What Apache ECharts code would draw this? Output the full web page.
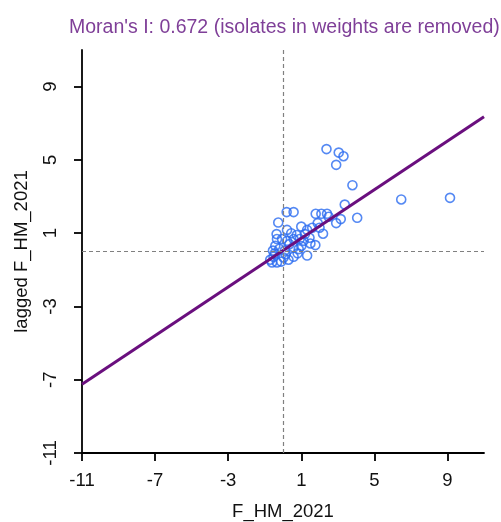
<!DOCTYPE html>
<html>
<head>
<meta charset="utf-8">
<script src="https://cdn.jsdelivr.net/npm/echarts@6/dist/echarts.min.js"></script>
<style>
  html, body { margin: 0; padding: 0; background: #fff; }
  #main { width: 501px; height: 522px; }
</style>
</head>
<body>
<div id="main"></div>
<script>
// 数据：标准化值 与 空间滞后值
var xVals = [2.38, 3.05, 3.31, 2.91, 3.80, 6.47, 9.14, 3.38, 4.06, 0.20,
  0.58, 1.79, 2.10, 2.41, 3.16, 2.91, 1.90, -0.26, 2.19, 1.00,
  0.22, 1.32, -0.33, -0.05, 0.58, 0.91, 1.13, 1.50, 1.77, 0.22,
  -0.42, 0.58, 0.86, 1.32, 0.58, 0.03, -0.52, -0.60, -0.33, -0.70,
  -0.45, 0.10, 0.35, -0.20, 0.75, 1.20, 0.45, -0.10, 0.30, 1.00,
  -0.55, 0.15, 1.60, 2.00, 0.80, -0.35, 1.45, 2.50]
var yVals = [5.59, 5.40, 5.20, 4.73, 3.62, 2.84, 2.93, 2.56, 1.84, 2.15,
  2.15, 2.06, 2.06, 2.06, 1.77, 1.55, 1.55, 1.58, 0.97, 1.36,
  1.18, 1.18, 0.68, 0.68, 0.68, 0.68, 0.58, 0.44, 0.35, 0.58,
  0.31, 0.22, 0.13, -0.22, -0.29, -0.33, -0.29, -0.60, -0.60, -0.45,
  -0.10, 0.05, 0.40, 0.15, 0.90, 0.95, 1.00, -0.55, -0.45, 0.30,
  0.05, -0.15, 1.30, 1.30, -0.10, 0.95, 0.75, 1.90]
// 回归线两端
var lineX = [-11, 11]
var lineY = [-7.25, 7.35]
// 刻度
var xTicks = [-11, -7, -3, 1, 5, 9]
var yTicks = [-11, -7, -3, 1, 5, 9]

var points = xVals.map(function (v, i) { return [v, yVals[i]] })
var linePts = lineX.map(function (v, i) { return [v, lineY[i]] })

var font = 'Liberation Sans, Arial, sans-serif'
var axisCommon = {
  type: 'value',
  min: -11,
  max: 11,
  axisLine: { show: true, onZero: false, lineStyle: { color: '#000', width: 1.8 } },
  axisTick: { show: true, inside: false, length: 8, lineStyle: { color: '#000', width: 1.8 } },
  splitLine: { show: false },
  nameLocation: 'middle',
  nameTextStyle: { fontFamily: font, fontSize: 18.5, color: '#111' }
}

var myChart = echarts.init(document.getElementById('main'))
myChart.setOption({
  animation: false,
  title: {
    text: "Moran's I: 0.672 (isolates in weights are removed)",
    left: 64,
    top: 13,
    textStyle: { fontFamily: font, fontSize: 19.5, fontWeight: 'normal', color: '#7f3f98' }
  },
  grid: { left: 82, right: 17, top: 50, bottom: 69, containLabel: false, outerBoundsMode: 'none' },
  xAxis: Object.assign({}, axisCommon, {
    name: 'F_HM_2021',
    nameGap: 49,
    axisTick: Object.assign({}, axisCommon.axisTick, { customValues: xTicks }),
    axisLabel: { customValues: xTicks, margin: 18, fontFamily: font, fontSize: 18.5, color: '#111' }
  }),
  yAxis: Object.assign({}, axisCommon, {
    name: 'lagged F_HM_2021',
    nameGap: 51,
    nameRotate: 90,
    axisTick: Object.assign({}, axisCommon.axisTick, { customValues: yTicks }),
    axisLabel: { customValues: yTicks, rotate: 90, margin: 22, fontFamily: font, fontSize: 18.5, color: '#111' }
  }),
  series: [
    {
      type: 'scatter',
      data: points,
      symbol: 'circle',
      symbolSize: 9,
      itemStyle: { color: 'rgba(0,0,0,0)', borderColor: '#2a6cf0', borderWidth: 1.6 },
      markLine: {
        silent: true,
        symbol: 'none',
        label: { show: false },
        lineStyle: { color: '#808080', type: [4, 3], width: 1.2 },
        data: [{ xAxis: 0 }, { yAxis: 0 }]
      },
      z: 2
    },
    {
      type: 'line',
      data: linePts,
      symbol: 'none',
      lineStyle: { color: '#6a0f7e', width: 3 },
      z: 3
    }
  ]
})
</script>
</body>
</html>
